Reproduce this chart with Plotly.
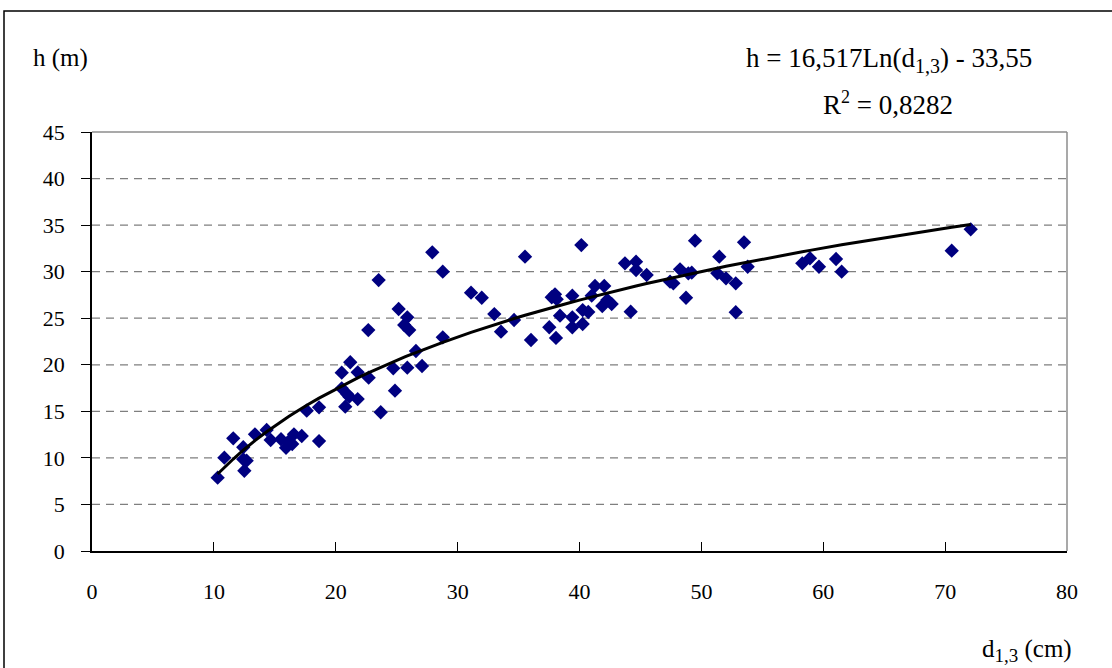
import numpy as np
import plotly.graph_objects as go

# Diameter at 1.3 m (cm) and tree height (m) for each measured tree
d13 = [
    10.31, 10.86, 11.59, 12.41, 12.41, 12.69, 12.50, 13.37, 14.33, 14.66,
    15.51, 15.92, 16.11, 16.57, 16.43, 17.21, 17.62, 18.63, 18.63,
    27.92, 28.78, 23.52, 25.16, 25.87, 25.62, 26.03, 22.67, 28.78, 26.58,
    21.19, 20.49, 21.80, 22.70, 24.72, 25.87, 27.08, 20.49, 20.95, 21.11,
    21.80, 24.86, 20.78, 23.69,
    35.53, 40.15, 31.10, 31.98, 33.01, 33.56, 34.63, 36.02, 37.52, 38.07,
    37.72, 37.99, 38.13, 38.40, 39.41, 39.41, 39.41, 40.26, 40.72, 40.26,
    41.00, 41.27, 42.03, 41.87, 42.28, 42.64,
    43.73, 44.64, 44.64, 45.51, 44.20, 49.48, 48.25, 48.93, 49.21, 47.43,
    47.70, 48.74, 51.47, 51.31, 52.02, 52.82, 52.82, 53.50, 53.80,
    58.28, 58.91, 59.65, 61.05, 61.51, 70.54, 72.10,
]
h = [
    7.87, 10.02, 12.10, 11.14, 9.85, 9.70, 8.62, 12.53, 13.00, 11.92,
    12.00, 11.09, 11.74, 12.53, 11.49, 12.35, 15.07, 15.43, 11.81,
    32.08, 30.00, 29.10, 25.99, 25.10, 24.27, 23.73, 23.73, 22.95, 21.48,
    20.27, 19.15, 19.19, 18.61, 19.62, 19.69, 19.87, 17.47, 16.83, 16.57,
    16.32, 17.22, 15.50, 14.90,
    31.61, 32.86, 27.74, 27.20, 25.45, 23.55, 24.81, 22.66, 24.03, 22.88,
    27.25, 27.57, 27.03, 25.27, 27.42, 25.10, 24.03, 25.88, 25.67, 24.38,
    27.42, 28.46, 28.46, 26.31, 26.96, 26.53,
    30.90, 31.07, 30.18, 29.64, 25.70, 33.33, 30.25, 29.82, 29.89, 28.92,
    28.75, 27.20, 31.61, 29.82, 29.29, 28.75, 25.64, 33.15, 30.53,
    30.90, 31.44, 30.53, 31.36, 30.00, 32.25, 34.55,
]

x_ticks = [0, 10, 20, 30, 40, 50, 60, 70, 80]
y_ticks = [0, 5, 10, 15, 20, 25, 30, 35, 40, 45]

SUB13 = "<sub><span style='font-size:19px'>1,3</span></sub>"
SUB13_EQ = "<sub><span style='font-size:20px'>1,3</span></sub>"
eq_text = "h = 16,517Ln(d" + SUB13_EQ + ") - 33,55"
r2_text = "R<sup><span style='font-size:18px'>2</span></sup> = 0,8282"
x_title = "d" + SUB13 + " (cm)"

# Logarithmic trend h = a*ln(d) + b, fitted to the measurements
d_arr = np.array(d13)
h_arr = np.array(h)
a, b = np.polyfit(np.log(d_arr), h_arr, 1)
d_line = np.sort(d_arr)
h_line = a * np.log(d_line) + b

FONT = "Liberation Serif, Times New Roman, serif"
FS = 22
FS_LABEL = 25
FS_EQ = 27
W, H = 1112, 668
ML, MR, MT, MB = 92, 45, 132, 117
PW, PH = W - ML - MR, H - MT - MB


def px_x(px):
    return (px - ML) / PW


def px_y(py):
    return (H - MB - py) / PH


fig = go.Figure()
fig.add_trace(go.Scatter(
    x=d13, y=h, mode="markers",
    marker=dict(symbol="diamond", size=11, color="#000080",
                line=dict(width=0)),
    showlegend=False, hoverinfo="x+y",
))
fig.add_trace(go.Scatter(
    x=d_line, y=h_line, mode="lines",
    line=dict(color="black", width=3),
    showlegend=False, hoverinfo="skip",
))

# dashed horizontal gridlines
shapes = []
for yv in y_ticks[1:-1]:
    shapes.append(dict(type="line", xref="paper", yref="y", x0=0, x1=1,
                       y0=yv, y1=yv,
                       line=dict(color="#7f7f7f", width=1.3, dash="8px,6px"),
                       layer="below"))
# plot-area border (top and right)
shapes.append(dict(type="line", xref="paper", yref="paper", x0=0, x1=1,
                   y0=1, y1=1, line=dict(color="#8c8c8c", width=1.5)))
shapes.append(dict(type="line", xref="paper", yref="paper", x0=1, x1=1,
                   y0=0, y1=1, line=dict(color="#8c8c8c", width=1.5)))
# outer chart frame
shapes.append(dict(type="rect", xref="paper", yref="paper",
                   x0=px_x(4), x1=px_x(1125), y0=px_y(680), y1=px_y(11),
                   line=dict(color="black", width=1.5),
                   fillcolor="rgba(0,0,0,0)"))

label_font = dict(family=FONT, size=FS_LABEL, color="black")
eq_font = dict(family=FONT, size=FS_EQ, color="black")
annotations = [
    dict(text="h (m)", x=px_x(31), y=px_y(58), xref="paper", yref="paper",
         xanchor="left", yanchor="middle", showarrow=False, font=label_font),
    dict(text=eq_text, x=px_x(889), y=px_y(60), xref="paper", yref="paper",
         xanchor="center", yanchor="middle", showarrow=False, font=eq_font),
    dict(text=r2_text, x=px_x(888), y=px_y(104), xref="paper", yref="paper",
         xanchor="center", yanchor="middle", showarrow=False, font=eq_font),
    dict(text=x_title, x=px_x(1027), y=px_y(650),
         xref="paper", yref="paper", xanchor="center", yanchor="middle",
         showarrow=False, font=label_font),
]

fig.update_layout(
    width=W, height=H,
    margin=dict(l=ML, r=MR, t=MT, b=MB, pad=0),
    paper_bgcolor="white", plot_bgcolor="white",
    font=dict(family=FONT, size=FS, color="black"),
    shapes=shapes, annotations=annotations,
    xaxis=dict(range=[0, 80], tickvals=x_ticks, ticks="inside", ticklen=9,
               tickcolor="black", tickwidth=1, showgrid=False, zeroline=False,
               showline=True, linecolor="black", linewidth=1.5,
               ticklabelstandoff=20, tickfont=dict(family=FONT, size=FS)),
    yaxis=dict(range=[0, 45], tickvals=y_ticks, ticks="outside", ticklen=9,
               tickcolor="black", tickwidth=1, showgrid=False, zeroline=False,
               showline=True, linecolor="black", linewidth=1.5,
               ticklabelstandoff=12, tickfont=dict(family=FONT, size=FS)),
)

fig.write_html("out.html")
